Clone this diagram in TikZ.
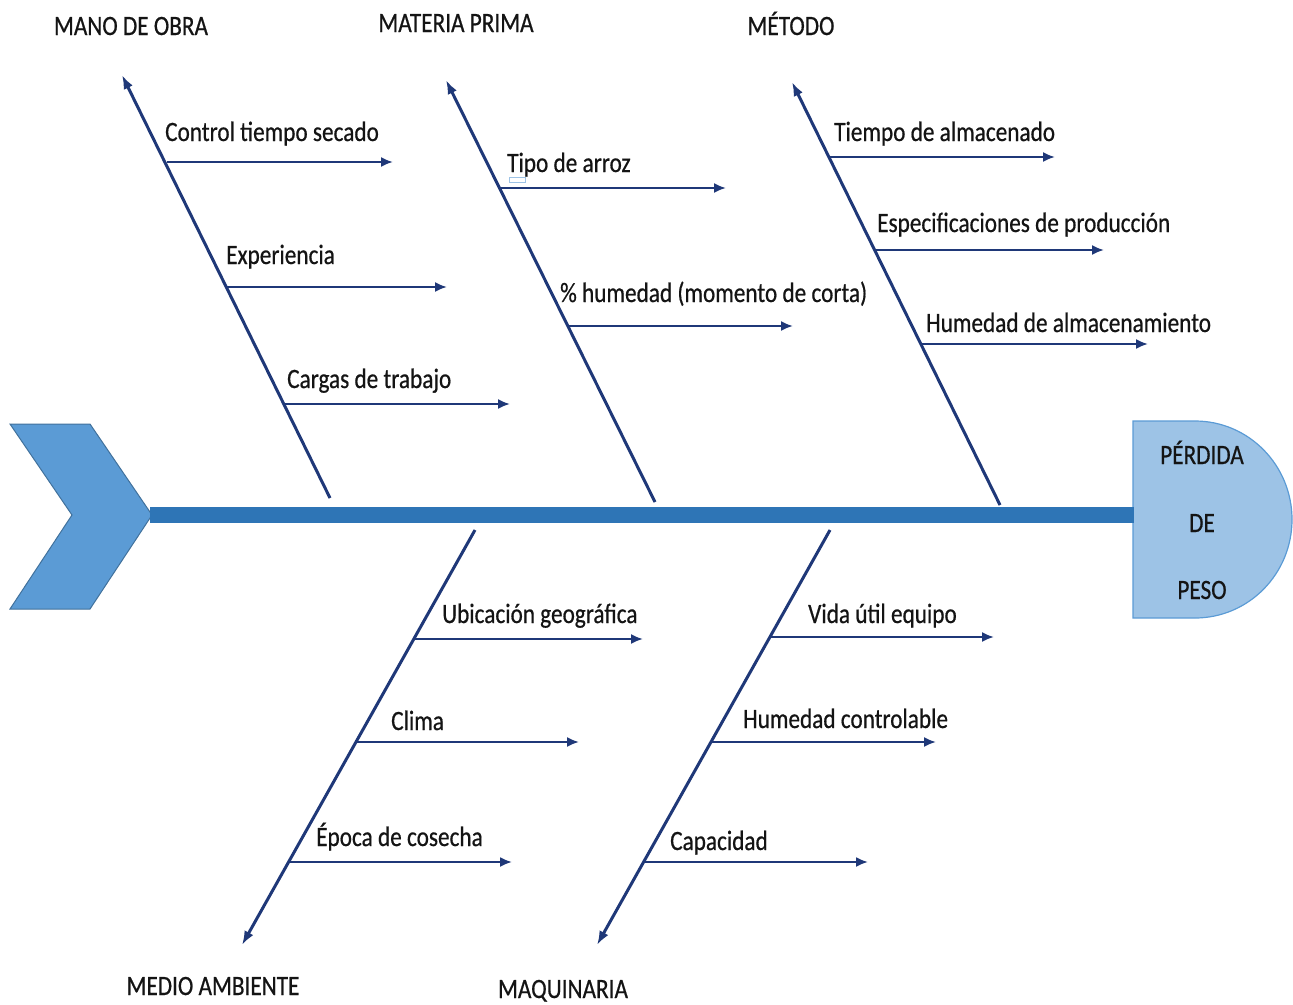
\documentclass[tikz,border=0pt]{standalone}
\usepackage{fontspec}
\setmainfont{Carlito}[FakeStretch=0.83,FakeBold=0.6]
\usetikzlibrary{arrows.meta}
\definecolor{bone}{RGB}{31,56,120}
\definecolor{spine}{RGB}{46,117,182}
\definecolor{chev}{RGB}{91,155,213}
\definecolor{chevline}{RGB}{65,113,156}
\definecolor{headfill}{RGB}{157,195,230}
\definecolor{txt}{RGB}{20,20,20}
\tikzset{
  bigbone/.style={draw=bone, line width=3pt, -{Latex[length=14pt,width=10pt]}},
  subarrow/.style={draw=bone, line width=2pt, -{Latex[length=12pt,width=10pt]}},
  lbl/.style={anchor=base west, inner sep=0pt, text=txt, font=\fontsize{28}{30}\selectfont},
  ttl/.style={anchor=base, inner sep=0pt, text=txt, font=\fontsize{28}{30}\selectfont},
}
\begin{document}
\begin{tikzpicture}[x=1pt,y=-1pt]
\useasboundingbox (0,0) rectangle (1293,1004);
% chevron (tail)
\draw[fill=chev, draw=chevline, line width=1pt] (10,424) -- (90,424) -- (152,515) -- (90,609) -- (10,609) -- (72,515) -- cycle;
% head
\draw[fill=headfill, draw=chev, line width=1.2pt] (1133,421) -- (1195,421) arc[start angle=-90, end angle=90, x radius=97, y radius=98.5] -- (1133,618) -- cycle;
\coordinate (spineA) at (150,515);
\coordinate (spineB) at (1134,515);
\draw[spine, line width=16pt] (spineA) -- (spineB);
\node[ttl] (h1) at (1202,464) {PÉRDIDA};
\node[ttl] (h2) at (1202,532) {DE};
\node[ttl] (h3) at (1202,599) {PESO};

% ---- MANO DE OBRA
\coordinate (b1s) at (330,498); \coordinate (b1e) at (122,75);
\draw[bigbone] (b1s) -- (b1e);
\node[ttl] (t1) at (131,35) {MANO DE OBRA};
\coordinate (a11) at (167,162); \coordinate (e11) at (393,162);
\coordinate (a12) at (226,287); \coordinate (e12) at (447,287);
\coordinate (a13) at (284,404); \coordinate (e13) at (510,404);
\draw[subarrow] (a11) -- (e11);
\draw[subarrow] (a12) -- (e12);
\draw[subarrow] (a13) -- (e13);
\node[lbl] (l11) at (165,141) {Control tiempo secado};
\node[lbl] (l12) at (226,264) {Experiencia};
\node[lbl] (l13) at (287,388) {Cargas de trabajo};

% ---- MATERIA PRIMA
\coordinate (b2s) at (655,502); \coordinate (b2e) at (446,80);
\draw[bigbone] (b2s) -- (b2e);
\node[ttl] (t2) at (456,32) {MATERIA PRIMA};
\coordinate (a21) at (500,188); \coordinate (e21) at (726,188);
\coordinate (a22) at (568,326); \coordinate (e22) at (793,326);
\draw[subarrow] (a21) -- (e21);
\draw[subarrow] (a22) -- (e22);
\node[lbl] (l21) at (507,172) {Tipo de arroz};
\draw[draw=chev!60, line width=1pt] (509,177) rectangle (525,182);
\node[lbl] (l22) at (560,302) {\% humedad (momento de corta)};

% ---- METODO
\coordinate (b3s) at (1000,505); \coordinate (b3e) at (792,82);
\draw[bigbone] (b3s) -- (b3e);
\node[ttl] (t3) at (791,35) {MÉTODO};
\coordinate (a31) at (829,157); \coordinate (e31) at (1055,157);
\coordinate (a32) at (875,250); \coordinate (e32) at (1104,250);
\coordinate (a33) at (921,344); \coordinate (e33) at (1148,344);
\draw[subarrow] (a31) -- (e31);
\draw[subarrow] (a32) -- (e32);
\draw[subarrow] (a33) -- (e33);
\node[lbl] (l31) at (834,141) {Tiempo de almacenado};
\node[lbl] (l32) at (877,232) {Especificaciones de producción};
\node[lbl] (l33) at (926,332) {Humedad de almacenamiento};

% ---- MEDIO AMBIENTE
\coordinate (b4s) at (475,530); \coordinate (b4e) at (242,945);
\draw[bigbone] (b4s) -- (b4e);
\node[ttl] (t4) at (213,995) {MEDIO AMBIENTE};
\coordinate (a41) at (414,639); \coordinate (e41) at (643,639);
\coordinate (a42) at (356,742); \coordinate (e42) at (579,742);
\coordinate (a43) at (289,862); \coordinate (e43) at (512,862);
\draw[subarrow] (a41) -- (e41);
\draw[subarrow] (a42) -- (e42);
\draw[subarrow] (a43) -- (e43);
\node[lbl] (l41) at (442,623) {Ubicación geográfica};
\node[lbl] (l42) at (391,730) {Clima};
\node[lbl] (l43) at (316,846) {Época de cosecha};

% ---- MAQUINARIA
\coordinate (b5s) at (830,530); \coordinate (b5e) at (597,945);
\draw[bigbone] (b5s) -- (b5e);
\node[ttl] (t5) at (563,998) {MAQUINARIA};
\coordinate (a51) at (770,637); \coordinate (e51) at (994,637);
\coordinate (a52) at (711,742); \coordinate (e52) at (936,742);
\coordinate (a53) at (644,862); \coordinate (e53) at (868,862);
\draw[subarrow] (a51) -- (e51);
\draw[subarrow] (a52) -- (e52);
\draw[subarrow] (a53) -- (e53);
\node[lbl] (l51) at (808,623) {Vida útil equipo};
\node[lbl] (l52) at (743,728) {Humedad controlable};
\node[lbl] (l53) at (670,850) {Capacidad};
\end{tikzpicture}
\end{document}
